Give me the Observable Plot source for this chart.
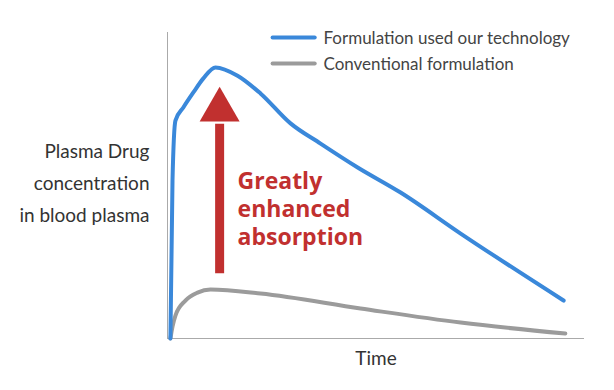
<!DOCTYPE html>
<html>
<head>
<meta charset="utf-8">
<script src="https://cdn.jsdelivr.net/npm/d3@7"></script>
<script src="https://cdn.jsdelivr.net/npm/@observablehq/plot@0.6"></script>
<style>
  html, body { margin: 0; padding: 0; background: #fff; }
  #chart { width: 614px; height: 390px; }
</style>
</head>
<body>
<div id="chart"></div>
<script>
// Series names
const seriesNames = ["Formulation used our technology", "Conventional formulation"];
const seriesColors = ["#3a88da", "#9b9b9b"];

// Blue series: time (arbitrary units 0-100) and plasma concentration (0-100)
const blueTime = [0.7, 1.2, 1.9, 3.8, 6.2, 8.6, 11.5, 16.8, 22.3, 29.5, 36.7, 45.6, 55.9, 70.3, 95.0];
const blueConc = [0, 51.6, 71.2, 75.5, 80.4, 85.0, 88.6, 85.9, 80.1, 70.3, 63.7, 55.9, 47.7, 34.3, 12.4];

// Gray series
const grayTime = [0.7, 1.2, 1.9, 4.3, 7.2, 10.3, 22.3, 46.3, 70.3, 95.4];
const grayConc = [0, 3.9, 7.5, 12.4, 15.0, 16.0, 14.7, 9.8, 5.2, 1.6];

// Annotation arrow (data units)
const arrowX = [12.5];
const arrowBase = [21.2];
const arrowHeadBase = [70.0];
const arrowHeadCenter = [74.7];
const annotationText = ["Greatly\nenhanced\nabsorption"];
const annotationX = [16.8];
const annotationY = [42.7];

// Legend positions (data units)
const legendX1 = [25.2, 25.2];
const legendX2 = [35.3, 35.3];
const legendY = [98.4, 89.9];
const legendTextX = [37.4, 37.4];

const yLabel = "Plasma Drug\nconcentration\nin blood plasma";
const xLabel = "Time";

const blue = blueTime.map((t, i) => ({t, c: blueConc[i]}));
const gray = grayTime.map((t, i) => ({t, c: grayConc[i]}));
const legend = seriesNames.map((name, i) => ({name, x1: legendX1[i], x2: legendX2[i], y: legendY[i], tx: legendTextX[i], color: seriesColors[i]}));
const arrow = arrowX.map((x, i) => ({x, base: arrowBase[i], headBase: arrowHeadBase[i], head: arrowHeadCenter[i]}));
const annot = annotationText.map((text, i) => ({text, x: annotationX[i], y: annotationY[i]}));

const red = "#c1302f";
const font = "Lato, 'Open Sans', sans-serif";

const chart = Plot.plot({
  width: 614,
  height: 390,
  marginLeft: 167,
  marginRight: 30,
  marginTop: 32,
  marginBottom: 52,
  style: {fontFamily: font, background: "#fff"},
  x: {domain: [0, 100], axis: null},
  y: {domain: [0, 100], axis: null},
  marks: [
    Plot.ruleX([0], {stroke: "#aaa", strokeWidth: 1}),
    Plot.ruleY([0], {stroke: "#aaa", strokeWidth: 1}),
    Plot.line(gray, {x: "t", y: "c", stroke: seriesColors[1], strokeWidth: 4, curve: "monotone-x"}),
    Plot.line(blue, {x: "t", y: "c", stroke: seriesColors[0], strokeWidth: 4, curve: "monotone-x"}),
    Plot.ruleX(arrow, {x: "x", y1: "base", y2: "headBase", stroke: red, strokeWidth: 9, strokeLinecap: "butt"}),
    Plot.dot(arrow, {x: "x", y: "head", symbol: "triangle", r: 14.85, fill: red, stroke: "none"}),
    Plot.text(annot, {x: "x", y: "y", text: "text", textAnchor: "start", lineAnchor: "middle", lineHeight: 1.22, fontSize: 23, fontWeight: "bold", fill: red, fontFamily: "'Open Sans', sans-serif"}),
    Plot.link(legend, {x1: "x1", x2: "x2", y1: "y", y2: "y", stroke: "color", strokeWidth: 4, strokeLinecap: "round"}),
    Plot.text(legend, {x: "tx", y: "y", text: "name", textAnchor: "start", lineAnchor: "middle", fontSize: 17, fill: "#444", dy: 1}),
    Plot.text([yLabel], {frameAnchor: "left", textAnchor: "end", lineAnchor: "middle", dx: -18, dy: -6, lineHeight: 1.68, fontSize: 19, fill: "#333"}),
    Plot.text([xLabel], {frameAnchor: "bottom", textAnchor: "middle", lineAnchor: "middle", dy: 20, fontSize: 19, fill: "#333"})
  ]
});
document.getElementById("chart").appendChild(chart);
</script>
</body>
</html>
